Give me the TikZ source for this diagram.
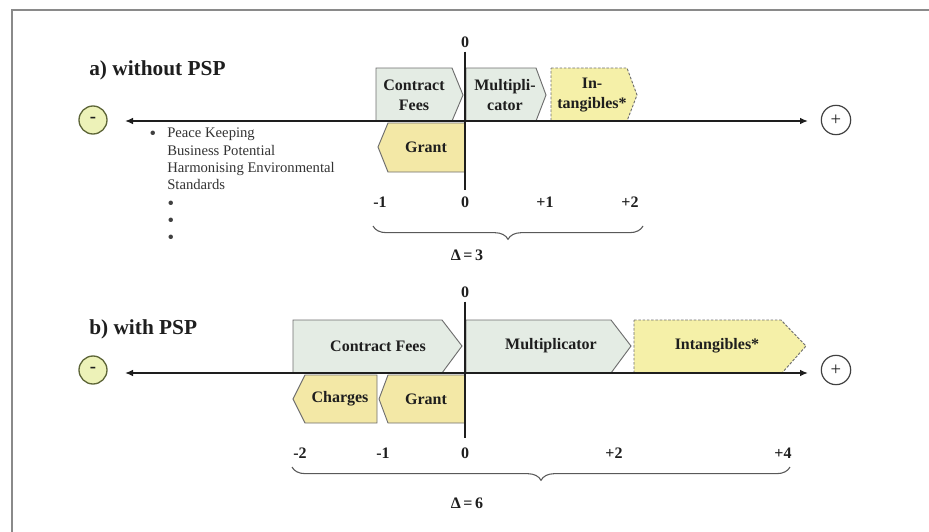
\documentclass[tikz,border=0pt]{standalone}
\usepackage{fontspec}
\setmainfont{Liberation Serif}
\usetikzlibrary{arrows.meta,decorations.pathreplacing}

\definecolor{framegray}{HTML}{8A8A8A}
\definecolor{edgegray}{HTML}{6E6E6E}
\definecolor{mintfill}{HTML}{E4ECE4}
\definecolor{lemonfill}{HTML}{F5F0A8}
\definecolor{grantfill}{HTML}{F3E8A6}
\definecolor{minusfill}{HTML}{EDF2B8}
\definecolor{minusedge}{HTML}{5E6638}
\definecolor{inkgray}{HTML}{1E1E1E}

\begin{document}
\begin{tikzpicture}[x=0.75pt,y=-0.75pt,
  every node/.style={text=inkgray, inner sep=0pt},
  title/.style={anchor=west, font=\fontsize{16}{19}\selectfont\bfseries},
  boxlabel/.style={align=center, font=\fontsize{12}{15}\selectfont\bfseries},
  ticklabel/.style={font=\fontsize{12}{14}\selectfont\bfseries},
  notelabel/.style={anchor=west, font=\fontsize{11}{13}\selectfont, text=black!80},
  bulletmark/.style={font=\fontsize{14}{14}\selectfont, text=black!75},
  mintbox/.style={draw=edgegray, line width=0.7pt, fill=mintfill},
  lemonbox/.style={draw=edgegray, line width=0.7pt, fill=lemonfill, dash pattern=on 2pt off 1.2pt},
  grantbox/.style={draw=edgegray, line width=0.7pt, fill=grantfill},
  minuscircle/.style={circle, draw=minusedge, line width=1pt, fill=minusfill, minimum size=21pt, font=\fontsize{14}{14}\selectfont\bfseries},
  pluscircle/.style={circle, draw=inkgray!85, line width=0.9pt, fill=white, minimum size=22pt, font=\fontsize{14}{14}\selectfont},
  axis/.style={<->, >={Latex[length=6pt,width=5pt]}, draw=inkgray, line width=1.1pt},
  zeroline/.style={draw=inkgray, line width=1.1pt},
  spanbrace/.style={draw=black!65, line width=0.8pt, decorate, decoration={brace, mirror, amplitude=10pt}}
]
\useasboundingbox (0,0) rectangle (929,532);

% outer frame (top and left edges)
\draw[framegray, line width=2pt] (12,532) -- (12,10) -- (929,10);

% ---------------- a) without PSP ----------------
\node[title] (titleA) at (89,70) {a) without PSP};

% value boxes above the axis
\draw[mintbox]  (376,68) -- (452,68) -- (463,95) -- (452,121) -- (376,121) -- cycle;
\draw[mintbox]  (466,68) -- (536,68) -- (546,95) -- (536,121) -- (466,121) -- cycle;
\draw[lemonbox] (551,68) -- (627,68) -- (637,95) -- (627,121) -- (551,121) -- cycle;
% value box below the axis
\draw[grantbox] (465,123) -- (388,123) -- (378,147) -- (388,172) -- (465,172) -- cycle;

\node[boxlabel] (feesA)  at (414,95)  {Contract\\Fees};
\node[boxlabel] (multA)  at (505,95)  {Multipli-\\cator};
\node[boxlabel] (intA)   at (592,95)  {In-\\tangibles*};
\node[boxlabel] (grantA) at (426,147) {Grant};

% zero line and axis
\node[ticklabel] (zeroTopA) at (465,42) {0};
\coordinate (zeroBotA) at (465,190);
\draw[zeroline] (zeroTopA.south) ++(0,4) -- (zeroBotA);

\node[minuscircle] (minusA) at (93,120) {-};
\node[pluscircle]  (plusA)  at (836,120) {+};
\coordinate (axLA) at (125,121);
\coordinate (axRA) at (808,121);
\draw[axis] (axLA) -- (axRA);

% list of intangibles
\node[bulletmark] (dotA0) at (153,135) {•};
\node[notelabel, align=left, anchor=north west] (listA) at (167,128)
  {Peace Keeping\\Business Potential\\Harmonising Environmental\\Standards};
\node[bulletmark] (dotA1) at (171,205) {•};
\node[bulletmark] (dotA2) at (171,222) {•};
\node[bulletmark] (dotA3) at (171,239) {•};

% scale values
\node[ticklabel] (tA1) at (380,202) {-1};
\node[ticklabel] (tA2) at (465,202) {0};
\node[ticklabel] (tA3) at (545,202) {+1};
\node[ticklabel] (tA4) at (630,202) {+2};

\coordinate (brLA) at (373,226);
\coordinate (brRA) at (643,226);
\draw[spanbrace] (brLA) -- (brRA);
\node[ticklabel] (deltaA) at (467,255) {Δ\,=\,3};

% ---------------- b) with PSP ----------------
\node[title] (titleB) at (89,329) {b) with PSP};

\draw[mintbox]  (293,320) -- (442,320) -- (462,346) -- (442,373) -- (293,373) -- cycle;
\draw[mintbox]  (466,320) -- (611,320) -- (631,346) -- (611,373) -- (466,373) -- cycle;
\draw[lemonbox] (634,320) -- (781,320) -- (806,346) -- (782,373) -- (634,373) -- cycle;
\draw[grantbox] (377,375) -- (305,375) -- (293,399) -- (305,423) -- (377,423) -- cycle;
\draw[grantbox] (465,375) -- (388,375) -- (379,399) -- (388,423) -- (465,423) -- cycle;

\node[boxlabel] (feesB)    at (378,346) {Contract Fees};
\node[boxlabel] (multB)    at (551,346) {Multiplicator};
\node[boxlabel] (intB)     at (717,346) {Intangibles*};
\node[boxlabel] (chargesB) at (340,399) {Charges};
\node[boxlabel] (grantB)   at (426,399) {Grant};

\node[ticklabel] (zeroTopB) at (465,292) {0};
\coordinate (zeroBotB) at (465,438);
\draw[zeroline] (zeroTopB.south) ++(0,4) -- (zeroBotB);

\node[minuscircle] (minusB) at (93,370) {-};
\node[pluscircle]  (plusB)  at (836,370) {+};
\coordinate (axLB) at (125,373);
\coordinate (axRB) at (808,373);
\draw[axis] (axLB) -- (axRB);

\node[ticklabel] (tB1) at (300,453) {-2};
\node[ticklabel] (tB2) at (383,453) {-1};
\node[ticklabel] (tB3) at (465,453) {0};
\node[ticklabel] (tB4) at (614,453) {+2};
\node[ticklabel] (tB5) at (783,453) {+4};

\coordinate (brLB) at (292,467);
\coordinate (brRB) at (790,467);
\draw[spanbrace] (brLB) -- (brRB);
\node[ticklabel] (deltaB) at (467,503) {Δ\,=\,6};

\end{tikzpicture}
\end{document}
